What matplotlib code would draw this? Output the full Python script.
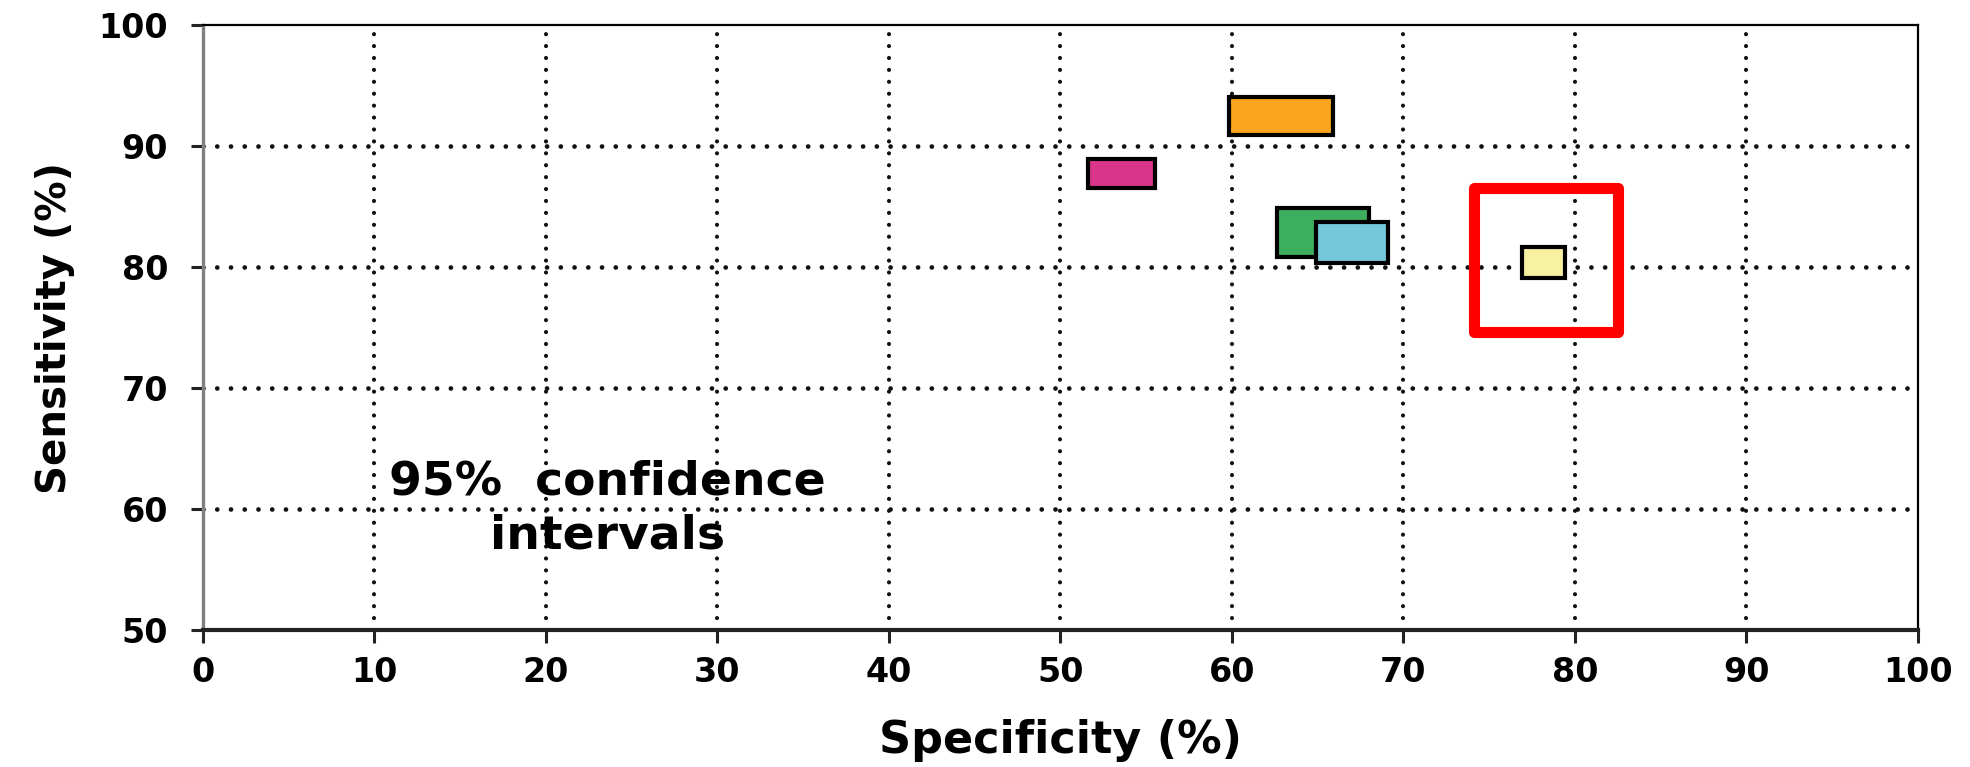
import numpy as np
import matplotlib
matplotlib.use("Agg")
import matplotlib.pyplot as plt

# 95% confidence intervals, specificity (x) vs sensitivity (y)
spec_lo = [59.8, 51.6, 62.6, 64.9, 76.9]
spec_hi = [65.9, 55.5, 68.0, 69.1, 79.4]
sens_lo = [90.9, 86.5, 80.8, 80.3, 79.1]
sens_hi = [94.1, 88.9, 84.9, 83.7, 81.7]
box_colors = ["#FAA51C", "#D8358B", "#3DAD5E", "#74C8D9", "#F7F1A0"]

# red highlight box around the last interval
hl_x = [74.1, 82.5]
hl_y = [74.6, 86.5]

xticks = np.arange(0, 101, 10)
yticks = np.arange(50, 101, 10)

plt.rcParams["font.family"] = "DejaVu Sans"
plt.rcParams["font.weight"] = "bold"

fig = plt.figure(figsize=(19.7, 7.67), dpi=100)
ax = fig.add_axes([0.103, 0.179, 0.8706, 0.788])

# dotted grid (round dots)
for x in xticks[1:-1]:
    ax.axvline(x, color="#111111", lw=3.0, ls=(0, (0.01, 2.85)),
               dash_capstyle="round", zorder=1)
for y in yticks[1:-1]:
    ax.axhline(y, color="#111111", lw=3.4, ls=(0, (0.01, 2.9)),
               dash_capstyle="round", zorder=1)

# interval boxes
for i in range(len(spec_lo)):
    ax.bar(spec_lo[i], sens_hi[i] - sens_lo[i], width=spec_hi[i] - spec_lo[i],
           bottom=sens_lo[i], align="edge", color=box_colors[i],
           edgecolor="black", linewidth=3, zorder=3)

ax.bar(hl_x[0], hl_y[1] - hl_y[0], width=hl_x[1] - hl_x[0], bottom=hl_y[0],
       align="edge", fill=False, edgecolor="#FF0000", linewidth=8,
       joinstyle="round", zorder=4)

ax.text(23.6, 60.0, "95%  confidence\nintervals", ha="center", va="center",
        multialignment="center", fontsize=34, fontweight="bold",
        linespacing=1.25, zorder=5)

ax.set_xlim(0, 100)
ax.set_ylim(50, 100)
ax.set_xticks(xticks)
ax.set_yticks(yticks)
ax.tick_params(axis="both", direction="out", length=9, width=2.2,
               labelsize=24, color="#222222")
ax.tick_params(axis="x", pad=10)
ax.tick_params(axis="y", pad=16)
for lab in ax.get_xticklabels() + ax.get_yticklabels():
    lab.set_fontweight("bold")

ax.spines["left"].set_color("#808080")
ax.spines["left"].set_linewidth(2.4)
ax.spines["bottom"].set_color("#222222")
ax.spines["bottom"].set_linewidth(3)
ax.spines["top"].set_linewidth(1.6)
ax.spines["right"].set_linewidth(1.6)

ax.set_xlabel("Specificity (%)", fontsize=32, fontweight="bold")
ax.set_ylabel("Sensitivity (%)", fontsize=29, fontweight="bold")
ax.xaxis.set_label_coords(0.5, -0.147)
ax.yaxis.set_label_coords(-0.0746, 0.5)

fig.savefig("out.png", dpi=100)
